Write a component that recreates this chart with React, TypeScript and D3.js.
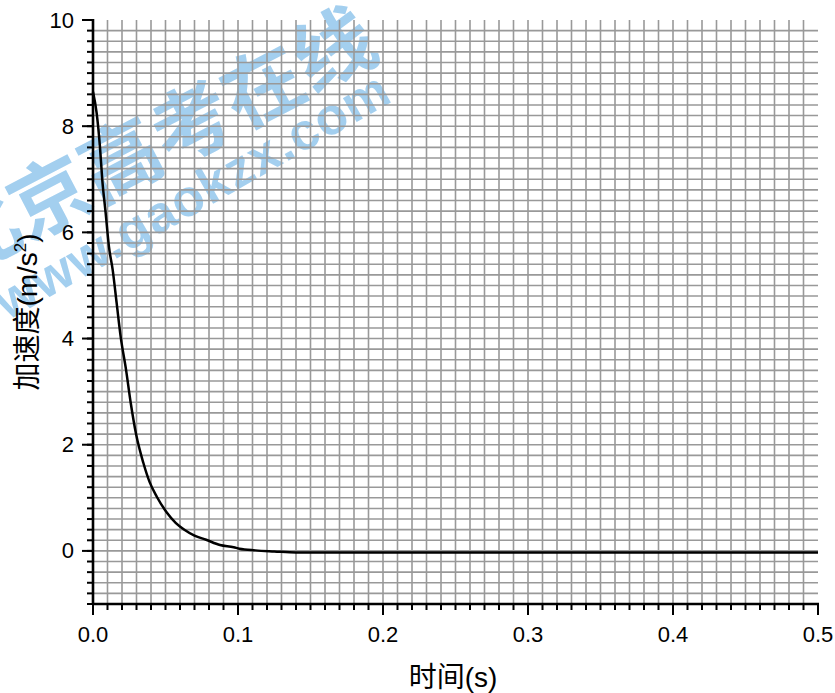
import React from "react";
import * as d3 from "d3";

const timeS = [0, 0.0025, 0.0048, 0.0064, 0.0087, 0.011, 0.0136, 0.0163, 0.0191, 0.0228, 0.026, 0.0297, 0.0347, 0.039, 0.044, 0.051, 0.057, 0.063, 0.07, 0.078, 0.0876, 0.097, 0.101, 0.112, 0.125, 0.14, 0.2, 0.3, 0.4, 0.5];
const accel = [8.65, 8.25, 7.61, 6.99, 6.37, 5.73, 5.29, 4.67, 4.03, 3.41, 2.79, 2.2, 1.66, 1.3, 1.02, 0.72, 0.53, 0.4, 0.29, 0.21, 0.11, 0.07, 0.04, 0.01, -0.01, -0.03, -0.03, -0.03, -0.03, -0.03];
const xTickValues = [0, 0.1, 0.2, 0.3, 0.4, 0.5];
const yTickValues = [0, 2, 4, 6, 8, 10];
const xTitle = "时间(s)";
const yTitleMain = "加速度(m/s";
const watermarkCn = "北京高考在线";
const watermarkUrl = "www.gaokzx.com";

const W = 835;
const H = 693;
const FONT = "Arial, 'Liberation Sans', 'Noto Sans CJK SC', sans-serif";

export default function App() {
  const x = d3.scaleLinear().domain([0, 0.5]).range([93, 818]);
  const y = d3.scaleLinear().domain([-1, 10]).range([604, 20]);

  const xMinor = d3.range(1, 50).map((i) => i / 100);
  const yMinor = d3.range(-4, 50).map((i) => i / 5);
  const xMinorTicks = d3.range(0, 51).map((i) => i / 100);
  const yMinorTicks = d3.range(-5, 51).map((i) => i / 5);

  const data = timeS.map((t, i) => [t, accel[i]] as [number, number]);
  const line = d3
    .line<[number, number]>()
    .x((d) => x(d[0]))
    .y((d) => y(d[1]))
    .curve(d3.curveMonotoneX);

  const x0 = x(0);
  const y0 = y(-1);

  return (
    <svg
      width={W}
      height={H}
      style={{ position: "absolute", left: 0, top: 0, background: "#fff" }}
      fontFamily={FONT}
    >
      {/* watermark */}
      <g fill="#a3cfef" fontWeight="bold">
        <text
          x={157}
          y={143}
          fontSize={80}
          textAnchor="middle"
          dominantBaseline="central"
          transform="rotate(-27.5 157 143)"
        >
          {watermarkCn}
        </text>
        <text
          x={192}
          y={195}
          fontSize={52}
          textAnchor="middle"
          dominantBaseline="central"
          transform="rotate(-29.7 192 195)"
          letterSpacing={1}
        >
          {watermarkUrl}
        </text>
      </g>

      {/* grid */}
      <g stroke="#999" strokeWidth={1.6}>
        {xMinor.map((v) => (
          <line key={"gx" + v} x1={x(v)} x2={x(v)} y1={y(10)} y2={y0} />
        ))}
        {yMinor.map((v) => (
          <line key={"gy" + v} x1={x0} x2={x(0.5)} y1={y(v)} y2={y(v)} />
        ))}
      </g>

      {/* curve */}
      <path d={line(data) || ""} fill="none" stroke="#000" strokeWidth={2.5} />

      {/* axes */}
      <g stroke="#000" strokeWidth={2}>
        <line x1={x0} x2={x0} y1={y(10) - 1} y2={y0 + 1} strokeWidth={2.6} />
        <line x1={x0 - 1} x2={x(0.5) + 1} y1={y0} y2={y0} strokeWidth={2.6} />
        {yMinorTicks.map((v) => (
          <line key={"ty" + v} x1={x0 - 6} x2={x0} y1={y(v)} y2={y(v)} />
        ))}
        {yTickValues.map((v) => (
          <line key={"TY" + v} x1={x0 - 11} x2={x0} y1={y(v)} y2={y(v)} />
        ))}
        {xMinorTicks.map((v) => (
          <line key={"tx" + v} x1={x(v)} x2={x(v)} y1={y0} y2={y0 + 6} />
        ))}
        {xTickValues.map((v) => (
          <line key={"TX" + v} x1={x(v)} x2={x(v)} y1={y0} y2={y0 + 11} />
        ))}
      </g>

      {/* tick labels */}
      <g fill="#000" fontSize={22}>
        {yTickValues.map((v) => (
          <text key={"ly" + v} x={74} y={y(v)} textAnchor="end" dominantBaseline="central">
            {d3.format("d")(v)}
          </text>
        ))}
        {xTickValues.map((v) => (
          <text key={"lx" + v} x={x(v)} y={642} textAnchor="middle">
            {d3.format(".1f")(v)}
          </text>
        ))}
      </g>

      {/* titles */}
      <text x={453} y={687} fontSize={28} textAnchor="middle" fill="#000">
        {xTitle}
      </text>
      <text
        x={0}
        y={0}
        fontSize={28}
        textAnchor="middle"
        fill="#000"
        transform="translate(37 312) rotate(-90)"
      >
        {yTitleMain}
        <tspan fontSize={17} dy={-11}>2</tspan>
        <tspan dy={11}>)</tspan>
      </text>
    </svg>
  );
}
